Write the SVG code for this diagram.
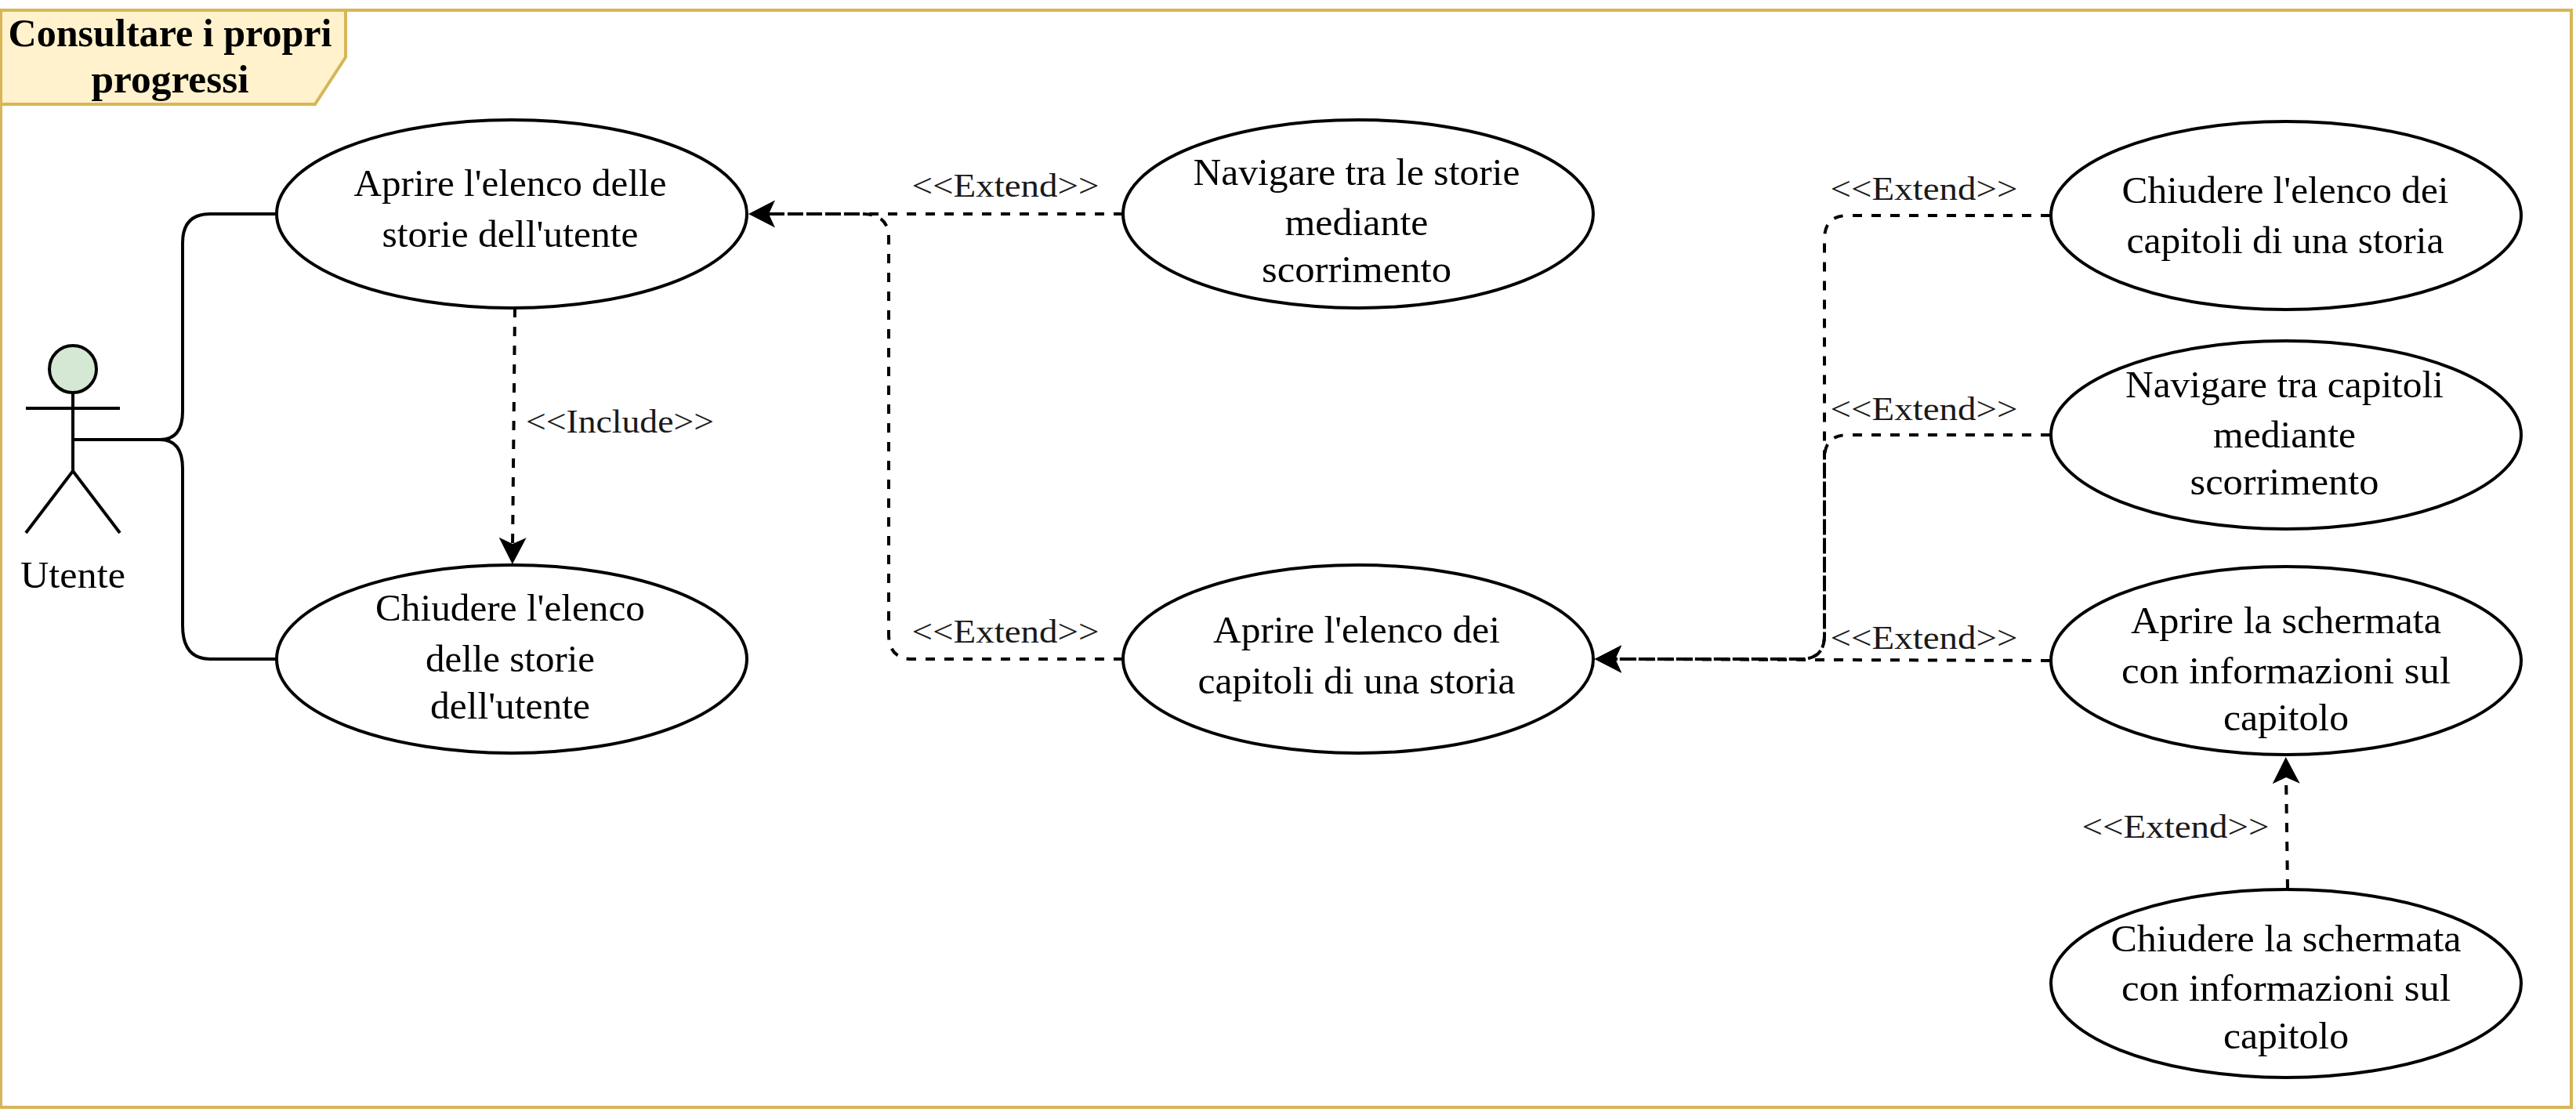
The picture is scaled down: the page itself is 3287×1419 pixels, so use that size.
<svg xmlns="http://www.w3.org/2000/svg" width="3287" height="1419" viewBox="0 0 3287 1419">
<style>
text{font-family:"Liberation Serif","Times New Roman",serif;fill:#000;text-anchor:middle}
.t{font-size:48px}
.l{font-size:42px;fill:#1a1a1a}
.b{font-size:50px;font-weight:bold}
.n{fill:#fff;stroke:#000;stroke-width:4}
.s{fill:none;stroke:#000;stroke-width:4}
.d{fill:none;stroke:#000;stroke-width:4;stroke-dasharray:12 12}
</style>
<defs>
<marker id="arrow" markerUnits="userSpaceOnUse" markerWidth="40" markerHeight="40" refX="16" refY="18" orient="auto">
<path d="M2 0.5L36 18L2 35.5L10 18Z" fill="#000"/>
</marker>
</defs>
<rect width="3287" height="1419" fill="#fff"/>
<g id="frame">
<rect x="1" y="13" width="3280" height="1400" fill="none" stroke="#d6b656" stroke-width="4"/>
<path d="M1 13H441V73L402 133H1Z" fill="#fff2cc" stroke="#d6b656" stroke-width="4"/>
<text class="b" x="217" y="59" textLength="413" lengthAdjust="spacingAndGlyphs">Consultare i propri</text>
<text class="b" x="217" y="118" textLength="201" lengthAdjust="spacingAndGlyphs">progressi</text>
</g>
<g id="connectors">
<path class="s" d="M93 561H204Q233 561 233 525V310Q233 273 268 273H353"/>
<path class="s" d="M204 561Q233 561 233 598V798Q233 841 268 841H353"/>
<path class="d" d="M657 393L654 700" marker-end="url(#arrow)"/>
<path class="d" d="M1433 273H975" marker-end="url(#arrow)"/>
<path class="d" d="M1433 841H1164Q1134 841 1134 809V303Q1134 273 1100 273H975"/>
<path class="d" d="M2616 275H2358Q2328 275 2328 305V811Q2328 841 2298 841H2055" marker-end="url(#arrow)"/>
<path class="d" d="M2616 555H2358Q2328 555 2328 585V811Q2328 841 2298 841H2055" marker-end="url(#arrow)"/>
<path class="d" d="M2616 843L2055 841" marker-end="url(#arrow)"/>
<path class="d" d="M2919 1134L2917 986" marker-end="url(#arrow)"/>
<text class="l" x="791" y="552" textLength="240" lengthAdjust="spacingAndGlyphs">&lt;&lt;Include&gt;&gt;</text>
<text class="l" x="1283" y="251" textLength="239" lengthAdjust="spacingAndGlyphs">&lt;&lt;Extend&gt;&gt;</text>
<text class="l" x="1283" y="820" textLength="239" lengthAdjust="spacingAndGlyphs">&lt;&lt;Extend&gt;&gt;</text>
<text class="l" x="2455" y="255" textLength="239" lengthAdjust="spacingAndGlyphs">&lt;&lt;Extend&gt;&gt;</text>
<text class="l" x="2455" y="536" textLength="239" lengthAdjust="spacingAndGlyphs">&lt;&lt;Extend&gt;&gt;</text>
<text class="l" x="2455" y="828" textLength="239" lengthAdjust="spacingAndGlyphs">&lt;&lt;Extend&gt;&gt;</text>
<text class="l" x="2776" y="1069" textLength="239" lengthAdjust="spacingAndGlyphs">&lt;&lt;Extend&gt;&gt;</text>
</g>
<g id="actor">
<ellipse cx="93" cy="471" rx="30" ry="30" fill="#d5e8d4" stroke="#000" stroke-width="4"/>
<path class="s" d="M93 501V601M33 521H153M33 680L93 601L153 680"/>
<text class="t" x="93" y="750" textLength="134" lengthAdjust="spacingAndGlyphs">Utente</text>
</g>
<g id="open-list">
<ellipse class="n" cx="653" cy="273" rx="300" ry="120"/>
<text class="t" x="651" y="250" textLength="399" lengthAdjust="spacingAndGlyphs">Aprire l'elenco delle</text>
<text class="t" x="651" y="315" textLength="327" lengthAdjust="spacingAndGlyphs">storie dell'utente</text>
</g>
<g id="close-list">
<ellipse class="n" cx="653" cy="841" rx="300" ry="120"/>
<text class="t" x="651" y="792" textLength="344" lengthAdjust="spacingAndGlyphs">Chiudere l'elenco</text>
<text class="t" x="651" y="857" textLength="216" lengthAdjust="spacingAndGlyphs">delle storie</text>
<text class="t" x="651" y="917" textLength="204" lengthAdjust="spacingAndGlyphs">dell'utente</text>
</g>
<g id="scroll-stories">
<ellipse class="n" cx="1733" cy="273" rx="300" ry="120"/>
<text class="t" x="1731" y="236" textLength="417" lengthAdjust="spacingAndGlyphs">Navigare tra le storie</text>
<text class="t" x="1731" y="300" textLength="183" lengthAdjust="spacingAndGlyphs">mediante</text>
<text class="t" x="1731" y="360" textLength="242" lengthAdjust="spacingAndGlyphs">scorrimento</text>
</g>
<g id="open-chapters">
<ellipse class="n" cx="1733" cy="841" rx="300" ry="120"/>
<text class="t" x="1731" y="820" textLength="366" lengthAdjust="spacingAndGlyphs">Aprire l'elenco dei</text>
<text class="t" x="1731" y="885" textLength="405" lengthAdjust="spacingAndGlyphs">capitoli di una storia</text>
</g>
<g id="close-chapters">
<ellipse class="n" cx="2917" cy="275" rx="300" ry="120"/>
<text class="t" x="2916" y="259" textLength="417" lengthAdjust="spacingAndGlyphs">Chiudere l'elenco dei</text>
<text class="t" x="2916" y="323" textLength="405" lengthAdjust="spacingAndGlyphs">capitoli di una storia</text>
</g>
<g id="scroll-chapters">
<ellipse class="n" cx="2917" cy="555" rx="300" ry="120"/>
<text class="t" x="2915" y="507" textLength="406" lengthAdjust="spacingAndGlyphs">Navigare tra capitoli</text>
<text class="t" x="2915" y="571" textLength="182" lengthAdjust="spacingAndGlyphs">mediante</text>
<text class="t" x="2915" y="631" textLength="241" lengthAdjust="spacingAndGlyphs">scorrimento</text>
</g>
<g id="open-info">
<ellipse class="n" cx="2917" cy="843" rx="300" ry="120"/>
<text class="t" x="2917" y="808" textLength="396" lengthAdjust="spacingAndGlyphs">Aprire la schermata</text>
<text class="t" x="2917" y="872" textLength="420" lengthAdjust="spacingAndGlyphs">con informazioni sul</text>
<text class="t" x="2917" y="932" textLength="160" lengthAdjust="spacingAndGlyphs">capitolo</text>
</g>
<g id="close-info">
<ellipse class="n" cx="2917" cy="1255" rx="300" ry="120"/>
<text class="t" x="2917" y="1214" textLength="447" lengthAdjust="spacingAndGlyphs">Chiudere la schermata</text>
<text class="t" x="2917" y="1277" textLength="420" lengthAdjust="spacingAndGlyphs">con informazioni sul</text>
<text class="t" x="2917" y="1338" textLength="160" lengthAdjust="spacingAndGlyphs">capitolo</text>
</g>
</svg>
